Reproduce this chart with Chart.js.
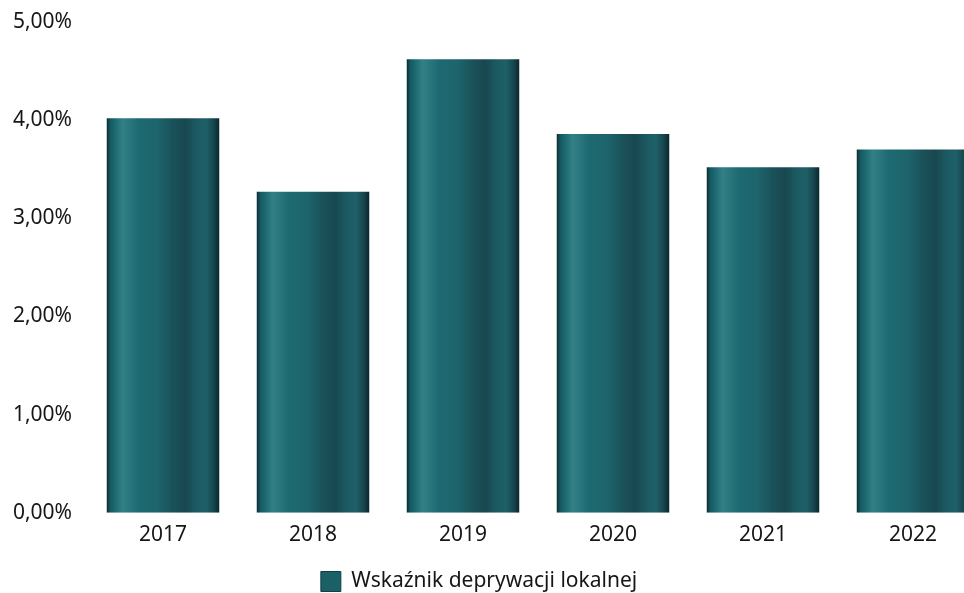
<!DOCTYPE html>
<html lang="pl">
<head>
<meta charset="UTF-8">
<title>Wskaźnik deprywacji lokalnej</title>
<script src="https://cdn.jsdelivr.net/npm/chart.js@4.4.1/dist/chart.umd.min.js"></script>
<style>
  html, body { margin: 0; padding: 0; background: #fff; overflow: hidden; }
  #wrap { width: 964px; height: 593px; overflow: hidden; position: relative; }
  #myChart { position: absolute; left: -30px; top: 0; }
</style>
</head>
<body>
<div id="wrap">
  <canvas id="myChart" width="1018" height="593"></canvas>
</div>
<script>
  // values, in %
  const years = ['2017', '2018', '2019', '2020', '2021', '2022'];
  const values = [4.02, 3.27, 4.62, 3.86, 3.52, 3.70];
  const seriesLabel = 'Wskaźnik deprywacji lokalnej';

  const textColor = '#161616';
  const fontFamily = '"Noto Sans", "Open Sans", sans-serif';

  // horizontal shading of each bar, like the scanned original
  const stops = [
    [0.00, '#0c2b31'], [0.03, '#155760'], [0.08, '#1f6b73'], [0.14, '#327f86'],
    [0.19, '#2d7980'], [0.28, '#1e6a72'], [0.45, '#1d646c'], [0.58, '#1b525a'],
    [0.70, '#184850'], [0.80, '#1c5a62'], [0.88, '#1f6068'], [0.95, '#17464e'],
    [1.00, '#0a262b']
  ];

  function barFill(context) {
    const chart = context.chart;
    const xScale = chart.scales.x;
    if (!xScale || context.dataIndex === undefined) return '#1d6a70';
    const catW = xScale.width / years.length;
    const w = catW * 0.75;
    const cx = xScale.getPixelForValue(context.dataIndex);
    const g = chart.ctx.createLinearGradient(cx - w / 2, 0, cx + w / 2, 0);
    stops.forEach(s => g.addColorStop(s[0], s[1]));
    return g;
  }

  const ctx = document.getElementById('myChart');
  new Chart(ctx, {
    type: 'bar',
    data: {
      labels: years,
      datasets: [{
        label: seriesLabel,
        data: values,
        backgroundColor: barFill,
        borderWidth: 0,
        categoryPercentage: 1.0,
        barPercentage: 0.75
      }]
    },
    options: {
      responsive: false,
      animation: false,
      layout: { padding: { top: 22, right: 0, bottom: -9, left: 0 } },
      plugins: {
        tooltip: { enabled: false },
        legend: {
          position: 'bottom',
          labels: {
            color: textColor,
            font: { family: fontFamily, size: 21 },
            boxWidth: 20,
            boxHeight: 20,
            padding: 2,
            generateLabels: (chart) => [{
              text: seriesLabel,
              fillStyle: '#1b5f67',
              strokeStyle: '#123f44',
              lineWidth: 1,
              fontColor: textColor,
              datasetIndex: 0
            }]
          }
        }
      },
      scales: {
        x: {
          grid: { display: false },
          border: { display: false },
          afterFit: (scale) => { scale.height += 19; },
          ticks: {
            color: textColor,
            font: { family: fontFamily, size: 21 },
            padding: 2
          }
        },
        y: {
          min: 0,
          max: 5,
          grid: { display: false },
          border: { display: false },
          afterFit: (scale) => { scale.width = 118; },
          ticks: {
            stepSize: 1,
            color: textColor,
            padding: 8,
            font: { family: fontFamily, size: 21 },
            callback: (v) => v.toFixed(2).replace('.', ',') + '%'
          }
        }
      }
    }
  });
</script>
</body>
</html>
